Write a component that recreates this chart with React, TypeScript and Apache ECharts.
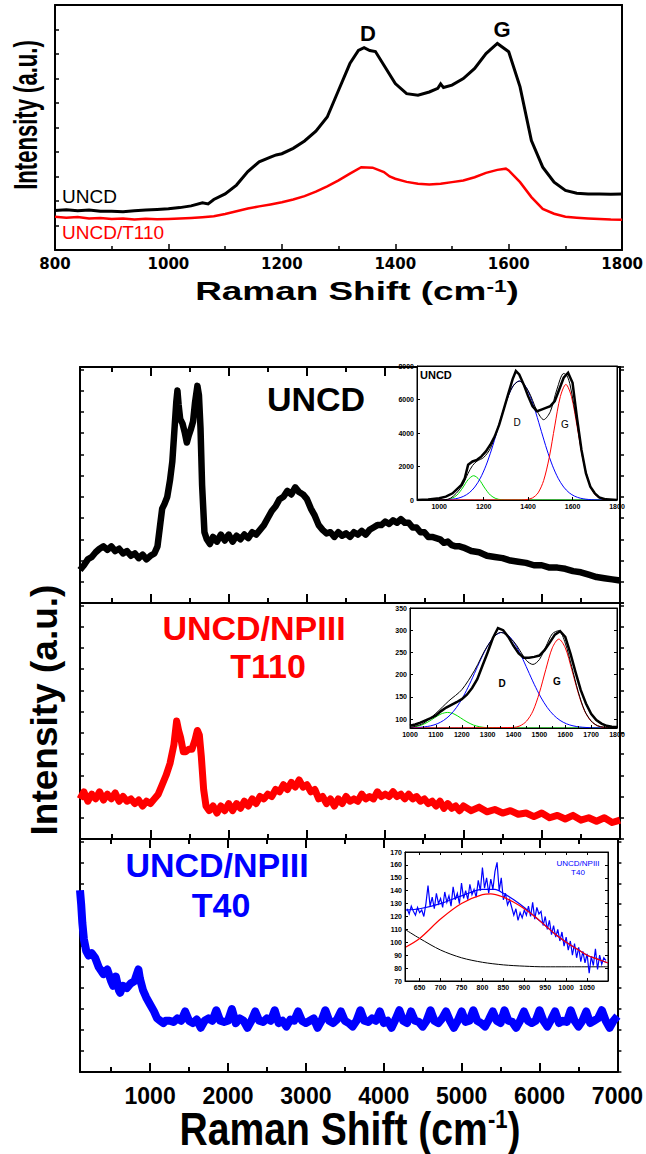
import React, { useEffect, useRef } from "react";
import * as echarts from "echarts";

// ---------- DATA ----------
// Top chart (Raman shift 800-1800, arbitrary intensity 0-100)
const uncdTop: [number, number][] = [[800,16.1],[820,16.4],[840,16.0],[860,16.3],[880,15.8],[900,15.8],[920,15.6],[940,16.0],[960,16.3],[980,16.5],[1000,16.8],[1020,17.3],[1040,18.0],[1060,19.3],[1070,18.8],[1080,20.6],[1100,22.9],[1120,26.5],[1140,32.0],[1160,36.0],[1180,37.9],[1190,38.8],[1200,39.3],[1220,41.5],[1240,44.5],[1260,48.5],[1280,54.3],[1300,65.2],[1320,76.1],[1335,81.5],[1345,82.6],[1355,81.4],[1365,81.0],[1380,75.4],[1400,67.9],[1420,63.8],[1440,63.2],[1460,64.5],[1475,66.0],[1480,67.8],[1485,66.3],[1500,67.3],[1520,70.0],[1540,74.1],[1560,80.2],[1580,84.3],[1600,80.9],[1620,66.6],[1640,44.7],[1660,33.8],[1680,27.7],[1700,24.3],[1720,23.2],[1740,22.9],[1760,22.9],[1780,22.8],[1800,22.9]];
const t110Top: [number, number][] = [[800,13.6],[820,13.2],[840,13.5],[860,12.9],[880,13.1],[900,12.7],[920,12.9],[940,12.5],[960,12.8],[980,12.6],[1000,12.7],[1020,12.9],[1040,13.1],[1060,13.4],[1080,13.8],[1100,14.7],[1120,15.8],[1140,16.9],[1160,17.8],[1180,18.6],[1200,19.5],[1220,20.6],[1240,22.0],[1260,23.8],[1280,26.0],[1300,28.4],[1320,31.2],[1340,33.8],[1360,33.6],[1380,31.8],[1390,30.0],[1400,29.1],[1420,27.8],[1440,27.0],[1460,26.7],[1480,27.0],[1500,27.7],[1520,28.4],[1540,29.7],[1560,31.5],[1580,32.7],[1595,33.2],[1600,32.5],[1620,27.7],[1640,21.6],[1660,16.8],[1680,14.8],[1700,13.6],[1720,13.2],[1740,12.9],[1760,12.7],[1780,12.4],[1800,12.3]];

// Bottom stacked panels (Raman shift 100-7000, arbitrary intensity 0-100)
const uncdPanel: [number, number][] = [[100,14],[150,16],[200,18.5],[250,19.5],[300,21.5],[350,23],[400,24],[450,22.5],[500,24],[550,22],[600,23],[650,21],[700,22],[750,20],[800,21],[850,19],[900,20.5],[950,18.5],[1000,20],[1050,21],[1090,24],[1120,32],[1150,40],[1180,42],[1215,45],[1250,52],[1280,60],[1310,75],[1330,85],[1345,90],[1360,84],[1380,78],[1410,76],[1440,72],[1465,68],[1490,71],[1520,74],[1545,77],[1570,85],[1600,92],[1620,88],[1640,74],[1660,50],[1690,30],[1720,27],[1760,25],[1800,28],[1850,26],[1900,29],[1950,26.5],[2000,29],[2050,26],[2100,28.5],[2150,27],[2200,29],[2250,27.5],[2300,30],[2350,29],[2400,31],[2450,33],[2500,36],[2550,39],[2600,41],[2650,44],[2700,45],[2750,47.5],[2800,46],[2850,49],[2900,47],[2950,46],[3000,44],[3050,40],[3100,37],[3150,33],[3200,31],[3250,29.5],[3300,30],[3350,28],[3400,30],[3450,28.5],[3500,29.5],[3550,28],[3600,30],[3650,29],[3700,30.5],[3750,29],[3800,31],[3850,32],[3900,33],[3950,33],[4000,34.5],[4050,33.5],[4100,35],[4150,34],[4200,35.5],[4250,34],[4300,34],[4350,32],[4400,32],[4450,30],[4500,30],[4550,28],[4600,28],[4650,27.5],[4700,27],[4750,25.5],[4800,26],[4850,24.5],[4900,24],[4950,24],[5000,23.5],[5100,22],[5200,21.5],[5300,20],[5400,19.5],[5500,19],[5600,18],[5700,17.5],[5800,17],[5900,16],[6000,16],[6100,15],[6200,15],[6300,14.5],[6400,13.5],[6500,13],[6600,12],[6700,11],[6800,10.5],[6900,10],[7000,9.5]];
const t110Panel: [number, number][] = [[100,17],[150,20],[200,16],[250,19],[300,17],[350,20],[400,16.5],[450,19],[500,17],[550,19.5],[600,16],[650,18],[700,16],[750,17],[800,15],[850,16.5],[900,14],[950,16],[1000,15],[1050,17],[1100,19],[1150,23],[1200,27],[1250,32],[1300,40],[1335,50],[1360,46],[1385,43],[1420,37],[1450,37],[1490,38],[1530,38],[1570,42],[1600,46],[1625,44],[1650,35],[1680,21],[1710,14],[1750,12],[1800,14],[1850,11],[1900,14],[1950,12],[2000,15],[2050,12],[2100,15],[2150,13],[2200,16],[2250,14],[2300,17],[2350,15],[2400,18],[2450,17],[2500,19],[2550,18],[2600,21],[2650,20],[2700,23],[2750,21],[2800,24],[2850,22],[2900,25],[2950,22],[3000,23],[3050,20],[3100,21],[3150,17],[3200,18],[3250,15],[3300,17],[3350,14],[3400,17],[3450,15],[3500,18],[3550,16],[3600,17],[3650,16],[3700,19],[3750,17],[3800,18],[3850,17],[3900,20],[3950,18],[4000,19],[4050,18],[4100,20],[4150,18],[4200,19],[4250,17],[4300,19],[4350,17],[4400,18],[4450,16],[4500,17],[4550,15],[4600,16],[4650,14],[4700,16],[4750,13],[4800,15],[4850,13],[4900,14],[4950,12],[5000,14],[5100,12],[5200,13.5],[5300,11.5],[5400,12.5],[5500,11],[5600,12],[5700,10.5],[5800,11],[5900,9.5],[6000,11],[6100,9],[6200,10],[6300,8.5],[6400,10],[6500,8],[6600,9],[6700,7.5],[6800,9],[6900,7],[7000,8]];
const t40Panel: [number, number][] = [[100,78],[115,72],[130,64],[150,57],[180,52],[210,50],[250,51],[295,49],[340,45],[400,42],[450,44],[500,39],[525,37],[560,41],[600,35],[615,34],[650,37],[700,36],[750,38],[800,39],[830,42],[850,44],[870,40],[910,35],[950,32],[1000,29],[1050,26],[1090,23],[1130,22],[1170,21],[1200,22],[1250,22],[1300,21.5],[1350,23],[1400,22],[1450,26],[1500,22],[1550,21],[1600,22.5],[1650,19],[1700,22],[1750,23],[1800,22],[1850,26.5],[1900,22],[1950,21.5],[2000,22],[2050,27],[2100,21],[2150,23],[2200,22],[2250,19],[2300,22],[2350,26],[2400,22],[2450,21.5],[2500,23],[2550,22],[2600,26.5],[2650,21],[2700,22],[2750,19.5],[2800,22.5],[2850,22],[2900,26],[2950,22],[3000,21],[3050,22],[3100,23],[3150,19],[3200,22],[3250,26.5],[3300,22],[3350,21],[3400,22.5],[3450,26],[3500,22],[3550,21],[3600,19.5],[3650,22],[3700,26.5],[3750,22],[3800,21.5],[3850,23],[3900,22],[3950,26],[4000,21],[4050,22],[4100,19],[4150,22.5],[4200,26.5],[4250,22],[4300,21],[4350,26],[4400,22],[4450,21.5],[4500,19.5],[4550,22],[4600,26.5],[4650,22],[4700,21],[4750,23],[4800,26],[4850,22],[4900,19],[4950,22],[5000,26],[5050,21.5],[5100,22],[5150,26.5],[5200,22],[5250,21],[5300,19.5],[5350,22.5],[5400,26],[5450,22],[5500,21],[5550,26.5],[5600,22],[5650,21.5],[5700,19],[5750,22],[5800,26],[5850,22],[5900,21],[5950,22],[6000,26.5],[6050,22],[6100,19.5],[6150,22.5],[6200,26],[6250,21],[6300,22],[6350,21.5],[6400,26.5],[6450,22],[6500,19.5],[6550,22],[6600,26],[6650,21],[6700,22],[6750,23],[6800,26.5],[6850,22],[6900,19],[6950,22],[7000,24]];

// Inset 1: UNCD fit (900-1800, 0-8000)
const fit1Data: [number, number][] = [[900,0],[950,30],[1000,100],[1030,200],[1060,400],[1080,650],[1100,900],[1115,1300],[1130,2100],[1150,2300],[1170,2400],[1190,2600],[1210,2900],[1230,3300],[1250,3800],[1270,4500],[1290,5400],[1310,6300],[1330,7200],[1345,7700],[1360,7500],[1380,6900],[1400,6200],[1420,5600],[1440,5300],[1460,5400],[1480,5500],[1500,5600],[1520,5900],[1540,6600],[1560,7300],[1580,7600],[1600,7000],[1620,4900],[1640,3000],[1660,1600],[1680,800],[1700,400],[1720,150],[1750,40],[1800,0]];
const fit1Sum: [number, number][] = [[900,0],[1000,5],[1050,99],[1100,783],[1130,1594],[1150,2057],[1170,2321],[1200,2537],[1230,3077],[1260,4144],[1300,5816],[1330,6754],[1360,7103],[1400,6538],[1440,5321],[1470,4795],[1500,5280],[1530,6622],[1560,7553],[1575,7418],[1590,6805],[1620,4590],[1650,2276],[1680,826],[1710,220],[1750,22],[1800,0]];
const fit1Green: [number, number][] = [[900,0],[1030,17],[1055,86],[1080,294],[1105,713],[1130,1215],[1155,1450],[1180,1215],[1205,713],[1230,294],[1255,86],[1280,17],[1305,0],[1800,0]];
const fit1Blue: [number, number][] = [[900,0],[1010,8],[1035,20],[1060,48],[1085,107],[1110,223],[1135,430],[1160,775],[1185,1301],[1210,2040],[1235,2988],[1260,4080],[1285,5200],[1310,6180],[1335,6858],[1360,7100],[1385,6858],[1410,6180],[1435,5200],[1460,4080],[1485,2988],[1510,2040],[1535,1301],[1560,775],[1585,430],[1610,223],[1635,107],[1660,48],[1685,20],[1710,8],[1800,0]];
const fit1Red: [number, number][] = [[900,0],[1370,5],[1395,30],[1420,126],[1445,428],[1470,1165],[1495,2535],[1520,4422],[1545,6175],[1570,6900],[1595,6175],[1620,4422],[1645,2535],[1670,1165],[1695,428],[1720,126],[1745,30],[1770,5],[1800,0]];

// Inset 2: UNCD/NPIII T110 fit (1000-1800, 80-350)
const fit2Data: [number, number][] = [[1000,85],[1020,88],[1040,92],[1060,97],[1080,102],[1100,108],[1120,118],[1140,126],[1160,132],[1180,138],[1200,145],[1220,155],[1240,170],[1260,190],[1280,220],[1300,250],[1320,282],[1340,305],[1360,300],[1380,285],[1400,265],[1420,248],[1440,238],[1460,238],[1480,240],[1500,243],[1520,255],[1540,272],[1560,290],[1580,298],[1600,285],[1620,248],[1640,205],[1660,165],[1680,135],[1700,112],[1720,98],[1740,90],[1760,85],[1780,83],[1800,82]];
const fit2Sum: [number, number][] = [[1000,81],[1050,90],[1100,113],[1150,141],[1200,166],[1250,210],[1300,265],[1350,295],[1400,275],[1450,232],[1475,223],[1500,234],[1525,263],[1550,292],[1575,299],[1600,271],[1625,218],[1650,162],[1675,119],[1700,96],[1725,85],[1750,82],[1800,80]];
const fit2Green: [number, number][] = [[1000,81],[1020,82.7],[1045,86.7],[1070,93.8],[1095,103],[1120,111.6],[1145,115],[1170,111.6],[1195,103],[1220,93.8],[1245,86.7],[1270,82.7],[1295,80.9],[1350,80],[1800,80]];
const fit2Blue: [number, number][] = [[1000,80.5],[1030,81.2],[1055,82.4],[1080,84.9],[1105,89.4],[1130,97.1],[1155,109.1],[1180,126.5],[1205,149.8],[1230,178.4],[1255,210.4],[1280,242.3],[1305,269.7],[1330,288.4],[1355,295],[1380,288.4],[1405,269.7],[1430,242.3],[1455,210.4],[1480,178.4],[1505,149.8],[1530,126.5],[1555,109.1],[1580,97.1],[1605,89.4],[1630,84.9],[1655,82.4],[1680,81.2],[1705,80.5],[1800,80]];
const fit2Red: [number, number][] = [[1000,80],[1400,81.3],[1425,84.8],[1450,95.2],[1475,118],[1500,159],[1525,212],[1550,260.4],[1575,280],[1600,260.4],[1625,212],[1650,159],[1675,118],[1700,95.2],[1725,84.8],[1750,81.3],[1800,80]];

// Inset 3: UNCD/NPIII T40 fit (615-1100, 70-170)
const fit3Data: [number, number][] = [[620,126],[625,122],[630,128],[635,124],[640,121],[645,127],[650,123],[655,125],[660,120],[665,130],[670,144],[675,128],[680,135],[685,126],[690,138],[695,130],[700,134],[705,127],[710,139],[715,131],[720,136],[725,128],[730,143],[735,133],[740,138],[745,130],[750,146],[755,134],[760,140],[765,133],[770,145],[775,137],[780,141],[785,135],[790,148],[795,140],[800,158],[805,142],[810,150],[815,138],[820,149],[825,141],[830,155],[835,162],[840,140],[845,150],[850,133],[855,138],[860,129],[865,133],[870,127],[875,121],[880,126],[885,117],[890,123],[895,119],[900,125],[905,121],[910,128],[915,120],[920,131],[925,118],[930,127],[935,122],[940,124],[945,113],[950,120],[955,110],[960,117],[965,106],[970,113],[975,104],[980,110],[985,101],[990,108],[995,97],[1000,104],[1005,94],[1010,101],[1015,90],[1020,99],[1025,88],[1030,96],[1035,85],[1040,93],[1045,84],[1050,91],[1055,76],[1060,89],[1065,82],[1070,95],[1075,79],[1080,90],[1085,83],[1090,88],[1095,86]];
const fit3Fit: [number, number][] = [[615,125],[650,126],[700,130],[750,136],[800,141],[830,141],[850,138],[875,133],[900,127],[925,120],[950,113],[975,106],[1000,100],[1025,95],[1050,90],[1075,87],[1100,84]];
const fit3Red: [number, number][] = [[615,96],[650,103],[700,118],[750,130],[800,137],[820,137.5],[850,135],[875,131],[900,126],[925,120],[950,113],[975,106],[1000,100],[1025,95],[1050,90],[1075,87],[1100,84]];
const fit3Black: [number, number][] = [[615,110],[650,103],[700,94],[750,88],[800,84.5],[850,82.5],[900,81.5],[950,81],[1000,81],[1100,81]];

// Tick labels
const panelMajorTicks = [1000, 2000, 3000, 4000, 5000, 6000, 7000];
const panelMinorTicks = [500, 1500, 2500, 3500, 4500, 5500, 6500];
const inset1XTicks = [1000, 1200, 1400, 1600, 1800];
const inset2YTicks = [100, 150, 200, 250, 300, 350];
const inset3XTicks = [650, 700, 750, 800, 850, 900, 950, 1000, 1050];

// ---------- STYLE ----------
const ARIAL = '"Liberation Sans", Arial, Helvetica, sans-serif';
const NARROW = '"Liberation Sans Narrow", "Arial Narrow", "Liberation Sans", Arial, sans-serif';
const WIDE = '"DejaVu Sans", Verdana, sans-serif';
const BLACK = "#000000";
const plain = (v: number) => String(v);

function txt(x: number, y: number, s: string, size: number, fill: string, opts: any = {}) {
  const { weight = "bold", family = ARIAL, align = "center", rotation = 0, scaleX = 1, scaleY = 1 } = opts;
  return {
    type: "text",
    x, y, rotation, scaleX, scaleY, z: 100,
    style: {
      text: s, fill,
      font: `${weight} ${size}px ${family}`,
      align, verticalAlign: "middle",
      textAlign: align, textVerticalAlign: "middle",
    },
  };
}

function panelX(gridIndex: number, position: string, major: boolean, showLabel = false) {
  return {
    type: "value", gridIndex, position, min: 100, max: 7000,
    axisLine: { show: major, onZero: false, lineStyle: { color: BLACK, width: 2 } },
    axisTick: { show: true, inside: true, length: major ? 9 : 5, customValues: major ? panelMajorTicks : panelMinorTicks, lineStyle: { color: BLACK, width: 2 } },
    axisLabel: { show: showLabel && major, customValues: panelMajorTicks, formatter: plain, color: BLACK, fontFamily: NARROW, fontWeight: "bold", fontSize: 23, margin: 12 },
    splitLine: { show: false },
  };
}
function panelY(gridIndex: number, position: string) {
  return {
    type: "value", gridIndex, position, min: 0, max: 100, interval: 9,
    axisLine: { show: true, onZero: false, lineStyle: { color: BLACK, width: 2 } },
    axisTick: { show: true, inside: position === "left", length: 4, lineStyle: { color: BLACK, width: 1.5 } },
    axisLabel: { show: false }, splitLine: { show: false },
  };
}
const insetLabel = { color: BLACK, fontFamily: ARIAL, fontWeight: "bold", fontSize: 7, margin: 3, formatter: plain };
function insetAxisBase(gridIndex: number, position: string) {
  return {
    type: "value", gridIndex, position, z: 12,
    axisLine: { show: true, onZero: false, lineStyle: { color: BLACK, width: 1 } },
    splitLine: { show: false },
  };
}

function line(data: any, xi: number, yi: number, color: string, width: number, z = 2, smooth: any = false, join = "miter") {
  return {
    type: "line", data, xAxisIndex: xi, yAxisIndex: yi, showSymbol: false, symbol: "none", smooth, z,
    lineStyle: { color, width, join }, silent: true,
  };
}

export default function App() {
  const ref = useRef<HTMLDivElement>(null);
  useEffect(() => {
    if (!ref.current) return;
    const chart = echarts.init(ref.current, null, { renderer: "svg" });
    const xAxis: any[] = [
      // 0 top chart bottom
      {
        type: "value", gridIndex: 0, position: "bottom", min: 800, max: 1800, interval: 200,
        axisLine: { onZero: false, lineStyle: { color: BLACK, width: 2 } },
        axisTick: { inside: true, length: 6, lineStyle: { color: BLACK, width: 1.5 } },
        minorTick: { show: true, splitNumber: 2, length: 4, lineStyle: { color: BLACK, width: 1.5 } },
        axisLabel: { color: BLACK, fontFamily: WIDE, fontWeight: "bold", fontSize: 15, margin: 6, showMinLabel: true, showMaxLabel: true, formatter: plain },
        splitLine: { show: false },
      },
      // 1 top chart top
      {
        type: "value", gridIndex: 0, position: "top", min: 800, max: 1800,
        axisLine: { onZero: false, lineStyle: { color: BLACK, width: 2 } },
        axisTick: { show: false }, axisLabel: { show: false }, splitLine: { show: false },
      },
      panelX(1, "bottom", true), // 2
      panelX(1, "bottom", false), // 3
      panelX(1, "top", true), // 4
      panelX(1, "top", false), // 5
      panelX(2, "bottom", true), // 6
      panelX(2, "bottom", false), // 7
      panelX(3, "bottom", true, true), // 8
      panelX(3, "bottom", false), // 9
      panelX(3, "top", true), // 10
      panelX(3, "top", false), // 11
      // 12 inset1 bottom
      {
        ...insetAxisBase(4, "bottom"), min: 900, max: 1800,
        axisTick: { inside: true, length: 3, customValues: inset1XTicks, lineStyle: { color: BLACK } },
        axisLabel: { ...insetLabel, customValues: inset1XTicks },
      },
      { ...insetAxisBase(4, "top"), min: 900, max: 1800, axisTick: { show: false }, axisLabel: { show: false } },
      // 14 inset2 bottom
      {
        ...insetAxisBase(5, "bottom"), min: 1000, max: 1800, interval: 100,
        axisTick: { inside: true, length: 3, lineStyle: { color: BLACK } },
        minorTick: { show: true, splitNumber: 2, length: 2, lineStyle: { color: BLACK } },
        axisLabel: { ...insetLabel, showMinLabel: true, showMaxLabel: true },
      },
      { ...insetAxisBase(5, "top"), min: 1000, max: 1800, axisTick: { show: false }, axisLabel: { show: false } },
      // 16 inset3 bottom
      {
        ...insetAxisBase(6, "bottom"), min: 615, max: 1100,
        axisTick: { inside: true, length: 3, customValues: inset3XTicks, lineStyle: { color: BLACK } },
        axisLabel: { ...insetLabel, customValues: inset3XTicks },
      },
      {
        ...insetAxisBase(6, "top"), min: 615, max: 1100,
        axisTick: { inside: true, length: 3, customValues: inset3XTicks, lineStyle: { color: BLACK } },
        axisLabel: { show: false },
      },
    ];
    const yAxis: any[] = [
      {
        type: "value", gridIndex: 0, position: "left", min: 0, max: 100, interval: 10,
        axisLine: { show: true, onZero: false, lineStyle: { color: BLACK, width: 2 } },
        axisTick: { inside: true, length: 4, lineStyle: { color: BLACK, width: 1.5 } },
        axisLabel: { show: false }, splitLine: { show: false },
      },
      {
        type: "value", gridIndex: 0, position: "right", min: 0, max: 100,
        axisLine: { show: true, onZero: false, lineStyle: { color: BLACK, width: 2 } },
        axisTick: { show: false }, axisLabel: { show: false }, splitLine: { show: false },
      },
      panelY(1, "left"), panelY(1, "right"),
      panelY(2, "left"), panelY(2, "right"),
      panelY(3, "left"), panelY(3, "right"),
      // 8 inset1
      {
        ...insetAxisBase(4, "left"), min: 0, max: 8000, interval: 2000,
        axisTick: { inside: true, length: 3, lineStyle: { color: BLACK } },
        axisLabel: { ...insetLabel, showMinLabel: true, showMaxLabel: true },
      },
      { ...insetAxisBase(4, "right"), min: 0, max: 8000, axisTick: { show: false }, axisLabel: { show: false } },
      // 10 inset2
      {
        ...insetAxisBase(5, "left"), min: 80, max: 350,
        axisTick: { inside: true, length: 3, customValues: inset2YTicks, lineStyle: { color: BLACK } },
        axisLabel: { ...insetLabel, customValues: inset2YTicks },
      },
      {
        ...insetAxisBase(5, "right"), min: 80, max: 350,
        axisTick: { inside: true, length: 3, customValues: inset2YTicks, lineStyle: { color: BLACK } },
        axisLabel: { show: false },
      },
      // 12 inset3
      {
        ...insetAxisBase(6, "left"), min: 70, max: 170, interval: 10,
        axisTick: { inside: true, length: 3, lineStyle: { color: BLACK } },
        axisLabel: { ...insetLabel, showMinLabel: true, showMaxLabel: true },
      },
      {
        ...insetAxisBase(6, "right"), min: 70, max: 170, interval: 10,
        axisTick: { inside: true, length: 3, lineStyle: { color: BLACK } },
        axisLabel: { show: false },
      },
    ];

    const insetGrid = (left: number, top: number, width: number, height: number) => ({
      left, top, width, height, show: true, backgroundColor: "#ffffff", borderColor: BLACK, borderWidth: 1, z: 10,
    });

    const option: any = {
      animation: false,
      backgroundColor: "#ffffff",
      grid: [
        { left: 55, top: 5, width: 568, height: 245 },
        { left: 80, top: 367, width: 540, height: 236 },
        { left: 80, top: 603, width: 540, height: 236 },
        { left: 80, top: 839, width: 540, height: 233 },
        insetGrid(417, 366, 200, 134),
        insetGrid(410, 608, 207, 120),
        insetGrid(405, 852, 203, 129),
      ],
      xAxis, yAxis,
      series: [
        line(t110Top, 0, 0, "#ff0000", 2.5),
        line(uncdTop, 0, 0, BLACK, 3),
        line(uncdPanel, 2, 2, BLACK, 6.5, 2, false, "round"),
        line(t110Panel, 6, 4, "#ff0000", 7, 2, false, "round"),
        line(t40Panel, 8, 6, "#0000ff", 8, 2, false, "round"),
        // inset 1
        line(fit1Green, 12, 8, "#00dd00", 1, 11, 0.3),
        line(fit1Blue, 12, 8, "#0000ff", 1, 11, 0.3),
        line(fit1Red, 12, 8, "#ff0000", 1, 11, 0.3),
        line(fit1Data, 12, 8, BLACK, 2.5, 11),
        line(fit1Sum, 12, 8, BLACK, 1, 11, 0.3),
        // inset 2
        line(fit2Green, 14, 10, "#00dd00", 1, 11, 0.3),
        line(fit2Blue, 14, 10, "#0000ff", 1, 11, 0.3),
        line(fit2Red, 14, 10, "#ff0000", 1, 11, 0.3),
        line(fit2Data, 14, 10, BLACK, 2.5, 11),
        line(fit2Sum, 14, 10, BLACK, 1, 11, 0.3),
        // inset 3
        line(fit3Black, 16, 12, BLACK, 1, 11, 0.3),
        line(fit3Data, 16, 12, "#0000ff", 1.2, 11),
        line(fit3Fit, 16, 12, "#0000ff", 1.2, 11, 0.3),
        line(fit3Red, 16, 12, "#ff0000", 1.2, 11, 0.3),
      ],
      graphic: [
        // top chart
        txt(25, 115, "Intensity (a.u.)", 34, BLACK, { rotation: Math.PI / 2, scaleX: 0.65 }),
        {
          type: "text", x: 357, y: 291, z: 100, scaleX: 1.42,
          style: {
            text: "{a|Raman Shift (cm}{b|-1}{a|)}",
            align: "center", verticalAlign: "middle", textAlign: "center", textVerticalAlign: "middle",
            rich: {
              a: { fontSize: 26, fontWeight: "bold", fontFamily: ARIAL, fill: BLACK, color: BLACK },
              b: { fontSize: 16, fontWeight: "bold", fontFamily: ARIAL, fill: BLACK, color: BLACK, verticalAlign: "top" },
            },
          },
        },
        txt(368, 33, "D", 22, BLACK),
        txt(502, 29, "G", 22, BLACK),
        txt(62, 196, "UNCD", 19, BLACK, { weight: "normal", align: "left" }),
        txt(62, 232, "UNCD/T110", 19, "#ff0000", { weight: "normal", align: "left" }),
        // bottom chart
        txt(44, 710, "Intensity (a.u.)", 37, BLACK, { rotation: Math.PI / 2 }),
        {
          type: "text", x: 350, y: 1129, z: 100, scaleX: 0.85,
          style: {
            text: "{a|Raman Shift (cm}{b|-1}{a|)}",
            align: "center", verticalAlign: "middle", textAlign: "center", textVerticalAlign: "middle",
            rich: {
              a: { fontSize: 46, fontWeight: "bold", fontFamily: ARIAL, fill: BLACK, color: BLACK },
              b: { fontSize: 26, fontWeight: "bold", fontFamily: ARIAL, fill: BLACK, color: BLACK, verticalAlign: "top" },
            },
          },
        },
        txt(316, 399, "UNCD", 34, BLACK),
        txt(254, 628, "UNCD/NPIII", 34, "#ff0000"),
        txt(268, 666, "T110", 34, "#ff0000"),
        txt(217, 865, "UNCD/NPIII", 34, "#0000ff"),
        txt(221, 905, "T40", 34, "#0000ff"),
        // inset labels
        txt(420, 375, "UNCD", 11, BLACK, { align: "left" }),
        txt(517, 422, "D", 10, BLACK, { weight: "normal" }),
        txt(565, 424, "G", 10, BLACK, { weight: "normal" }),
        txt(502, 683, "D", 10, BLACK),
        txt(557, 681, "G", 10, BLACK),
        txt(578, 863, "UNCD/NPIII", 8, "#0000ff", { weight: "normal" }),
        txt(578, 872, "T40", 8, "#0000ff", { weight: "normal" }),
      ],
    };
    chart.setOption(option);
    return () => chart.dispose();
  }, []);
  return (
    <div
      ref={ref}
      style={{ position: "absolute", left: 0, top: 0, width: 646, height: 1154, background: "#fff" }}
    />
  );
}
